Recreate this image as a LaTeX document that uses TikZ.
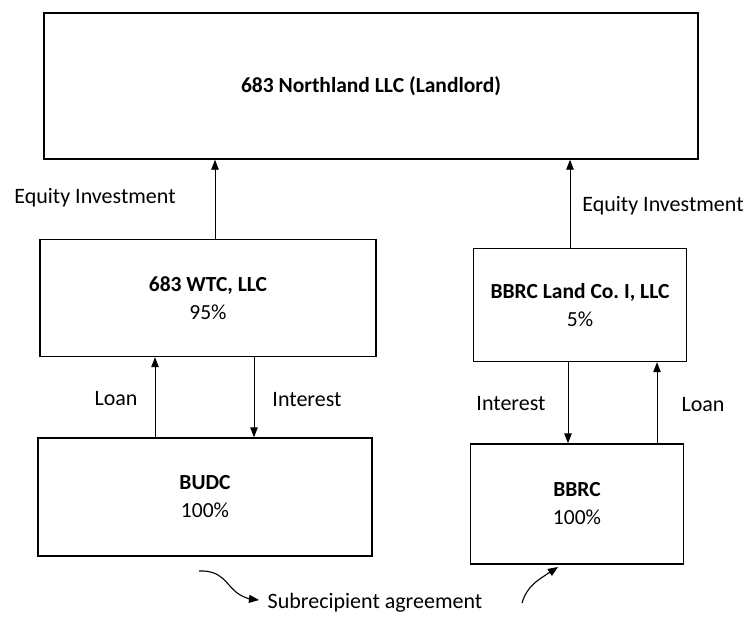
\documentclass[tikz,border=0pt]{standalone}
\usepackage{fontspec}
\setmainfont{Carlito}
\usetikzlibrary{arrows.meta}
\begin{document}
\begin{tikzpicture}[x=1pt,y=-1pt,
  box/.style={draw,line width=1.4pt,inner sep=0pt,align=center,font=\fontsize{21.5}{28}\selectfont},
  lbl/.style={font=\fontsize{22}{26}\selectfont,inner sep=0pt},
  arr/.style={line width=0.9pt,-{Triangle[length=10pt,width=7.5pt]}},
  curv/.style={line width=1.1pt,-{Triangle[length=10pt,width=8pt]}}]
\useasboundingbox (0,0) rectangle (749,619);
\node[box,minimum width=654pt,minimum height=146pt] (land) at (371,86) {\textbf{683 Northland LLC (Landlord)}};
\node[box,minimum width=336pt,minimum height=117pt] (wtc) at (208,298) {\textbf{683 WTC, LLC}\\95\%};
\node[box,minimum width=213pt,minimum height=113pt] (bland) at (580,305) {\textbf{BBRC Land Co.\ I, LLC}\\5\%};
\node[box,minimum width=334pt,minimum height=118pt] (budc) at (205,497) {\textbf{BUDC}\\100\%};
\node[box,minimum width=213pt,minimum height=120pt] (bbrc) at (577,504) {\textbf{BBRC}\\100\%};
\draw[arr] ([xshift=7pt]wtc.north) -- ([xshift=-156pt]land.south);
\draw[arr] ([xshift=-10pt]bland.north) -- ([xshift=199pt]land.south);
\node[lbl] (eq1) at (95,198) {Equity Investment};
\node[lbl] (eq2) at (663,206) {Equity Investment};
\draw[arr] ([xshift=-50pt]budc.north) -- ([xshift=-53pt]wtc.south);
\draw[arr] ([xshift=46pt]wtc.south) -- ([xshift=49pt]budc.north);
\node[lbl] (loan1) at (116,399) {Loan};
\node[lbl] (int1) at (307,400) {Interest};
\draw[arr] ([xshift=-12pt]bland.south) -- ([xshift=-9pt]bbrc.north);
\draw[arr] ([xshift=80pt]bbrc.north) -- ([xshift=77pt]bland.south);
\node[lbl] (int2) at (511,404) {Interest};
\node[lbl] (loan2) at (703,405) {Loan};
\node[lbl] (sub) at (375,603) {Subrecipient agreement};
\coordinate (c1s) at (199,571);
\coordinate (c1e) at (259,600);
\coordinate (c2s) at (522,603);
\coordinate (c2e) at (558,567);
\draw[curv] (c1s) .. controls (222,570) and (226,584) .. (236,592) .. controls (242,597) and (250,599) .. (c1e);
\draw[curv] (c2s) .. controls (527,586) and (538,580) .. (c2e);
\end{tikzpicture}
\end{document}
